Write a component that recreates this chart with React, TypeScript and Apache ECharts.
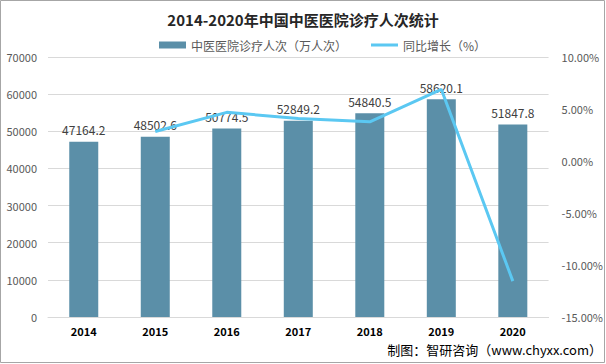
import React, { useEffect, useRef } from "react";
import * as echarts from "echarts";

const years = ["2014", "2015", "2016", "2017", "2018", "2019", "2020"];
const visits = [47164.2, 48502.6, 50774.5, 52849.2, 54840.5, 58620.1, 51847.8];
const growth = [null, 2.84, 4.68, 4.09, 3.77, 6.89, -11.55];

const title = "2014-2020年中国中医医院诊疗人次统计";
const barName = "中医医院诊疗人次（万人次）";
const lineName = "同比增长（%）";
const source = "制图：智研咨询（www.chyxx.com）";

const FONT = "'Noto Sans CJK SC', 'Noto Sans', sans-serif";
const LINE_ICON = "path://M0,0L0.05,0L0.05,0.05Z M0,2L27,2L27,5L0,5Z M0,7L0.05,7L0.05,6.95Z";

export default function App() {
  const ref = useRef<HTMLDivElement>(null);
  useEffect(() => {
    if (!ref.current) return;
    const chart = echarts.init(ref.current, null, { renderer: "svg" });
    chart.setOption({
      animation: false,
      backgroundColor: "#ffffff",
      textStyle: { fontFamily: FONT },
      title: {
        text: title,
        left: "center",
        top: 7,
        textStyle: { fontSize: 15, fontWeight: "bold", color: "#262626", fontFamily: FONT },
      },
      legend: {
        top: 34,
        left: 154,
        itemGap: 24,
        itemWidth: 27,
        itemHeight: 7,
        textStyle: { fontSize: 12, color: "#595959", fontFamily: FONT },
        data: [
          { name: barName, icon: "rect" },
          { name: lineName, icon: LINE_ICON, itemStyle: { color: "#5BC8F2" } },
        ],
      },
      grid: { left: 48, right: 57, top: 57, bottom: 47, containLabel: false },
      xAxis: {
        type: "category",
        data: years,
        axisLine: { show: true, lineStyle: { color: "#d9d9d9" } },
        axisTick: { show: false },
        axisLabel: { fontSize: 11, fontWeight: "bold", color: "#000000", margin: 8 },
      },
      yAxis: [
        {
          type: "value",
          min: 0,
          max: 70000,
          interval: 10000,
          axisLine: { show: false },
          axisTick: { show: false },
          axisLabel: { fontSize: 11, color: "#595959", margin: 11, formatter: (v: number) => String(v) },
          splitLine: { lineStyle: { color: "#d9d9d9" } },
        },
        {
          type: "value",
          min: -15,
          max: 10,
          interval: 5,
          axisLine: { show: false },
          axisTick: { show: false },
          axisLabel: {
            fontSize: 11,
            color: "#595959",
            margin: 13,
            formatter: (v: number) => v.toFixed(2) + "%",
          },
          splitLine: { show: false },
        },
      ],
      series: [
        {
          name: barName,
          type: "bar",
          data: visits,
          barWidth: 29,
          itemStyle: { color: "#5B8FA8" },
          label: {
            show: true,
            position: "top",
            distance: 6,
            fontSize: 12,
            color: "#404040",
            formatter: (p: any) => p.value.toFixed(1),
          },
        },
        {
          name: lineName,
          type: "line",
          yAxisIndex: 1,
          data: growth,
          symbol: "none",
          lineStyle: { width: 3, color: "#5BC8F2" },
          itemStyle: { color: "#5BC8F2" },
        },
      ],
      graphic: [
        {
          type: "rect",
          shape: { x: 0.5, y: 0.5, width: 604, height: 362 },
          style: { fill: "none", stroke: "#a6a6a6", lineWidth: 1 },
          silent: true,
        },
        {
          type: "text",
          right: 4,
          top: 343,
          style: { text: source, fontSize: 13, fill: "#000000", fontFamily: FONT },
        },
      ],
    });
    return () => chart.dispose();
  }, []);
  return (
    <div
      ref={ref}
      style={{ position: "fixed", left: 0, top: 0, width: 606, height: 364 }}
    />
  );
}
